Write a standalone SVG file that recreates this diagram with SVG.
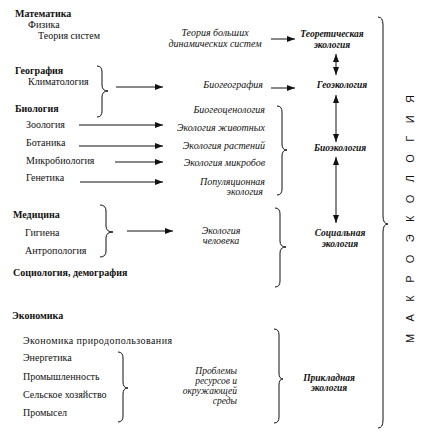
<svg xmlns="http://www.w3.org/2000/svg" width="436" height="434" viewBox="0 0 436 434">
<defs>
<marker id="ah" viewBox="0 0 8 6" refX="8" refY="3" markerWidth="8" markerHeight="6" markerUnits="userSpaceOnUse" orient="auto-start-reverse">
<path d="M0,0 L8,3 L0,6 Z" fill="#111"/>
</marker>
<style>
text{font-family:"Liberation Serif","Times New Roman",serif;fill:#111}
.l{font-size:10px}
.h{font-size:10px;font-weight:bold}
.m{font-size:10px;font-style:italic}
.p{font-size:9.5px;font-style:italic}
.e{font-size:9.5px;font-style:italic;font-weight:bold;text-anchor:middle}
.r{text-anchor:end}
.c{text-anchor:middle}
.br{fill:none;stroke:#111;stroke-width:1}
.ar{fill:none;stroke:#111;stroke-width:1;marker-end:url(#ah)}
.da{fill:none;stroke:#111;stroke-width:1;marker-end:url(#ah);marker-start:url(#ah)}
.big{font-size:11px;font-family:"Liberation Sans",Arial,sans-serif}
</style>
</defs>
<rect width="436" height="434" fill="#fff"/>

<g id="sources">
<text class="h" x="15" y="17">Математика</text>
<text class="l" x="28" y="28">Физика</text>
<text class="l" x="38" y="39">Теория систем</text>
<text class="h" x="15" y="74">География</text>
<text class="l" x="28" y="85">Климатология</text>
<text class="h" x="15" y="112">Биология</text>
<text class="l" x="26" y="128">Зоология</text>
<text class="l" x="26" y="146">Ботаника</text>
<text class="l" x="26" y="164">Микробиология</text>
<text class="l" x="26" y="181">Генетика</text>
<text class="h" x="13" y="218">Медицина</text>
<text class="l" x="25" y="236">Гигиена</text>
<text class="l" x="25" y="254">Антропология</text>
<text class="h" x="13" y="276">Социология, демография</text>
<text class="h" x="12" y="319">Экономика</text>
<text class="l" x="23" y="344" textLength="149" lengthAdjust="spacing">Экономика природопользования</text>
<text class="l" x="23" y="361">Энергетика</text>
<text class="l" x="23" y="380">Промышленность</text>
<text class="l" x="23" y="398">Сельское хозяйство</text>
<text class="l" x="23" y="416">Промысел</text>
</g>

<g id="middle">
<text class="m c" x="215" y="36">Теория больших</text>
<text class="m c" x="215" y="47">динамических систем</text>
<text class="m r" x="263" y="88">Биогеография</text>
<text class="m r" x="265" y="113">Биогеоценология</text>
<text class="m r" x="265" y="131">Экология животных</text>
<text class="m r" x="265" y="149">Экология растений</text>
<text class="m r" x="265" y="166">Экология микробов</text>
<text class="m r" x="265" y="185">Популяционная</text>
<text class="m r" x="263" y="195">экология</text>
<text class="m c" x="221" y="234">Экология</text>
<text class="m c" x="221" y="244">человека</text>
<text class="p r" x="237" y="374">Проблемы</text>
<text class="p r" x="237" y="384">ресурсов и</text>
<text class="p r" x="237" y="394">окружающей</text>
<text class="p r" x="237" y="404">среды</text>
</g>

<g id="ecologies">
<text class="e" x="332" y="37">Теоретическая</text>
<text class="e" x="332" y="48">экология</text>
<text class="e" x="342" y="88">Геоэкология</text>
<text class="e" x="340" y="151">Биоэкология</text>
<text class="e" x="340" y="236">Социальная</text>
<text class="e" x="340" y="247">экология</text>
<text class="e" x="329" y="381">Прикладная</text>
<text class="e" x="329" y="391">экология</text>
</g>

<g id="macro">
<path class="br" d="M378,17 Q383,17 383,25 L383,216 Q383,224 388,224 Q383,224 383,232 L383,420 Q383,428 378,428"/>
<text class="big" transform="translate(414,343) rotate(-90)" textLength="248" lengthAdjust="spacing">МАКРОЭКОЛОГИЯ</text>
</g>

<g id="braces">
<path class="br" d="M97,66 Q102,66 102,72 L102,85 Q102,91 108,91 Q102,91 102,97 L102,111 Q102,117 97,117"/>
<path class="br" d="M100,205 Q106,205 106,211 L106,226 Q106,232 113,232 Q106,232 106,238 L106,251 Q106,257 100,257"/>
<path class="br" d="M118,352 Q123,352 123,358 L123,382 Q123,388 128,388 Q123,388 123,394 L123,416 Q123,422 118,422"/>
<path class="br" d="M277,106 Q282,106 282,112 L282,144 Q282,150 287,150 Q282,150 282,156 L282,189 Q282,195 277,195"/>
<path class="br" d="M275,208 Q280,208 280,214 L280,241 Q280,247 286,247 Q280,247 280,253 L280,281 Q280,287 275,287"/>
<path class="br" d="M274,329 Q279,329 279,335 L279,373 Q279,379 283,379 Q279,379 279,385 L279,417 Q279,423 274,423"/>
</g>

<g id="connectors">
<line class="ar" x1="116" y1="87" x2="163" y2="87"/>
<line class="ar" x1="79" y1="125" x2="163" y2="125"/>
<line class="ar" x1="79" y1="146" x2="163" y2="146"/>
<line class="ar" x1="115" y1="162" x2="163" y2="162"/>
<line class="ar" x1="80" y1="182" x2="163" y2="182"/>
<line class="ar" x1="127" y1="231" x2="173" y2="231"/>
<line class="ar" x1="271" y1="39" x2="295" y2="39"/>
<line class="ar" x1="271" y1="88" x2="295" y2="88"/>
<line class="da" x1="336" y1="54" x2="336" y2="75"/>
<line class="da" x1="336" y1="95" x2="336" y2="142"/>
<line class="da" x1="336" y1="157" x2="336" y2="223"/>
</g>
</svg>
